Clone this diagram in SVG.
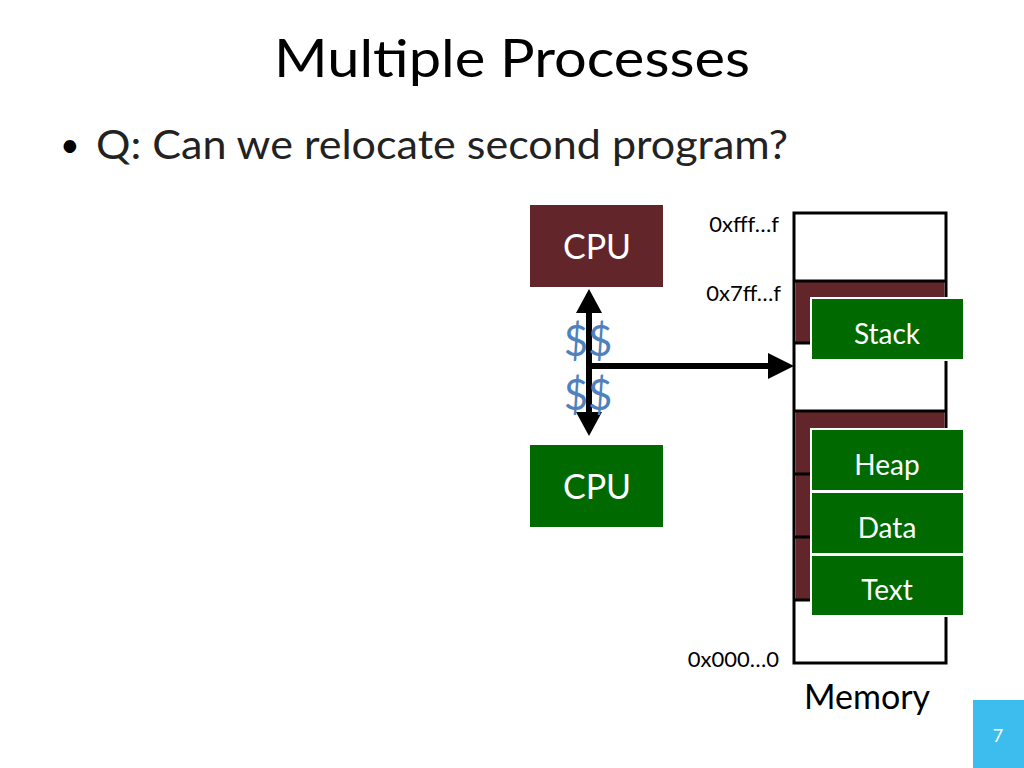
<svg xmlns="http://www.w3.org/2000/svg" width="1024" height="768" viewBox="0 0 1024 768">
<style>
text{font-family:Lato,"Open Sans","Liberation Sans",sans-serif}
.w{fill:#fff;text-anchor:middle}
.g{fill:#006a00;stroke:#fff;stroke-width:2}
.r{fill:#62262a}
.a{font-size:22px;fill:#000;text-anchor:end}
</style>
<rect width="1024" height="768" fill="#fff"/>
<text x="512" y="77" font-size="52" text-anchor="middle" textLength="476" lengthAdjust="spacingAndGlyphs">Multiple Processes</text>
<text x="60" y="157" font-size="34">•</text>
<text x="96" y="159" font-size="40" textLength="692" lengthAdjust="spacingAndGlyphs" fill="#222">Q: Can we relocate second program?</text>
<g id="memory">
<rect x="794" y="213" width="152" height="450" fill="#fff" stroke="#000" stroke-width="3"/>
<rect class="r" x="795.5" y="281" width="149" height="62"/>
<rect class="r" x="795.5" y="411" width="149" height="189"/>
<path d="M794 281H946M794 343H946M794 411H946M794 474H946M794 537H946M794 600H946" stroke="#000" stroke-width="3"/>
<text x="867" y="709" font-size="34" text-anchor="middle">Memory</text>
</g>
<text class="a" x="779" y="232">0xfff…f</text>
<text class="a" x="781" y="301">0x7ff…f</text>
<text class="a" x="779" y="667">0x000…0</text>
<g id="stack"><rect class="g" x="811" y="298" width="153" height="62"/><text class="w" x="887" y="344" font-size="28">Stack</text></g>
<g id="heap"><rect class="g" x="811" y="429" width="153" height="62"/><text class="w" x="887" y="475" font-size="28">Heap</text></g>
<g id="data"><rect class="g" x="811" y="492" width="153" height="62"/><text class="w" x="887" y="538" font-size="28">Data</text></g>
<g id="text"><rect class="g" x="811" y="555" width="153" height="61"/><text class="w" x="887" y="600" font-size="28">Text</text></g>
<g id="cpu1"><rect x="530" y="205" width="133" height="82" fill="#62262a"/><text class="w" x="597" y="259" font-size="34">CPU</text></g>
<g id="cpu2"><rect x="530" y="445" width="133" height="82" fill="#006a00"/><text class="w" x="597" y="499" font-size="34">CPU</text></g>
<g id="connectors">
<line x1="589" y1="312" x2="589" y2="412" stroke="#000" stroke-width="6"/>
<path d="M589 289L602 313H576zM589 436L602 412H576z" fill="#000"/>
<line x1="589" y1="366" x2="772" y2="366" stroke="#000" stroke-width="6"/>
<path d="M794 366L768 353V379z" fill="#000"/>
</g>
<text x="588" y="356" font-size="42" fill="#4f81bd" text-anchor="middle">$$</text>
<text x="588" y="410" font-size="42" fill="#4f81bd" text-anchor="middle">$$</text>
<rect x="973" y="700" width="51" height="68" fill="#3dbcee"/>
<text class="w" x="998" y="742" font-size="18">7</text>
</svg>
